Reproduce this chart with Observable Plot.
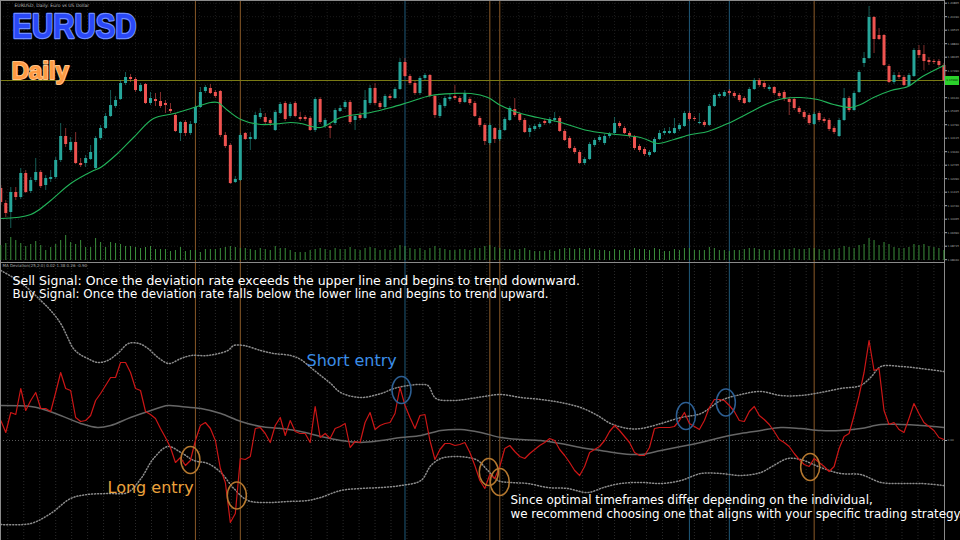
<!DOCTYPE html>
<html><head><meta charset="utf-8">
<script src="https://cdn.jsdelivr.net/npm/d3@7"></script>
<script src="https://cdn.jsdelivr.net/npm/@observablehq/plot@0.6"></script>
<style>
html,body{margin:0;padding:0;background:#000;}
#chart{position:relative;width:960px;height:540px;overflow:hidden;background:#000;}
#chart svg{position:absolute;left:0;display:block;}
</style></head><body><div id="chart"></div>
<script>
// ---------- DATA ----------
const candleOpen = [1.1160,1.1085,1.1040,1.1140,1.1115,1.1235,1.1145,1.1200,1.1240,1.1175,
1.1205,1.1215,1.1300,1.1420,1.1350,1.1390,1.1285,1.1285,1.1305,1.1260,
1.1410,1.1460,1.1520,1.1570,1.1605,1.1685,1.1715,1.1705,1.1645,1.1680,
1.1585,1.1605,1.1595,1.1585,1.1555,1.1525,1.1435,1.1490,1.1435,1.1485,
1.1565,1.1645,1.1660,1.1640,1.1645,1.1425,1.1375,1.1190,1.1200,1.1435,
1.1405,1.1405,1.1515,1.1515,1.1500,1.1450,1.1535,1.1585,1.1520,1.1585,
1.1515,1.1515,1.1510,1.1450,1.1605,1.1470,1.1470,1.1485,1.1545,1.1565,
1.1590,1.1500,1.1525,1.1510,1.1585,1.1660,1.1585,1.1565,1.1620,1.1610,
1.1655,1.1790,1.1720,1.1685,1.1635,1.1710,1.1725,1.1620,1.1520,1.1570,
1.1605,1.1620,1.1610,1.1590,1.1605,1.1585,1.1510,1.1475,1.1385,1.1460,
1.1405,1.1450,1.1500,1.1555,1.1530,1.1500,1.1440,1.1455,1.1465,1.1495,
1.1485,1.1500,1.1510,1.1445,1.1410,1.1360,1.1340,1.1285,1.1305,1.1375,
1.1400,1.1385,1.1420,1.1435,1.1485,1.1460,1.1435,1.1415,1.1370,1.1355,
1.1325,1.1340,1.1405,1.1435,1.1435,1.1435,1.1455,1.1470,1.1535,1.1510,
1.1485,1.1490,1.1475,1.1570,1.1620,1.1620,1.1645,1.1635,1.1625,1.1610,
1.1590,1.1655,1.1700,1.1685,1.1655,1.1665,1.1635,1.1640,1.1605,1.1605,
1.1560,1.1540,1.1525,1.1480,1.1535,1.1505,1.1500,1.1460,1.1420,1.1500,
1.1610,1.1550,1.1640,1.1785,1.1810,1.2015,1.1925,1.1925,1.1770,1.1690,
1.1725,1.1715,1.1670,1.1720,1.1850,1.1830,1.1800,1.1795,1.1795,1.1775];
const candleClose = [1.1090,1.1035,1.1140,1.1115,1.1235,1.1140,1.1200,1.1240,1.1170,1.1210,
1.1215,1.1300,1.1420,1.1380,1.1390,1.1285,1.1275,1.1310,1.1340,1.1410,
1.1460,1.1520,1.1575,1.1600,1.1685,1.1715,1.1705,1.1650,1.1675,1.1585,
1.1610,1.1595,1.1570,1.1575,1.1545,1.1445,1.1490,1.1435,1.1480,1.1565,
1.1640,1.1665,1.1635,1.1620,1.1425,1.1370,1.1185,1.1205,1.1425,1.1405,
1.1415,1.1525,1.1535,1.1490,1.1485,1.1540,1.1580,1.1505,1.1580,1.1520,
1.1505,1.1505,1.1450,1.1605,1.1490,1.1500,1.1460,1.1550,1.1560,1.1590,
1.1490,1.1520,1.1510,1.1600,1.1660,1.1585,1.1565,1.1620,1.1610,1.1655,
1.1790,1.1720,1.1685,1.1635,1.1710,1.1725,1.1620,1.1525,1.1575,1.1610,
1.1615,1.1610,1.1590,1.1635,1.1585,1.1520,1.1475,1.1395,1.1475,1.1405,
1.1450,1.1505,1.1560,1.1525,1.1500,1.1440,1.1460,1.1470,1.1480,1.1485,
1.1505,1.1510,1.1445,1.1400,1.1360,1.1340,1.1285,1.1305,1.1380,1.1400,
1.1415,1.1420,1.1430,1.1485,1.1470,1.1435,1.1420,1.1360,1.1350,1.1330,
1.1340,1.1405,1.1435,1.1445,1.1445,1.1460,1.1475,1.1535,1.1505,1.1505,
1.1490,1.1475,1.1570,1.1625,1.1630,1.1640,1.1635,1.1620,1.1600,1.1585,
1.1655,1.1700,1.1675,1.1665,1.1665,1.1635,1.1620,1.1605,1.1590,1.1560,
1.1540,1.1515,1.1485,1.1530,1.1500,1.1495,1.1455,1.1440,1.1500,1.1610,
1.1550,1.1635,1.1740,1.1810,1.2015,1.1905,1.1905,1.1775,1.1690,1.1725,
1.1715,1.1675,1.1725,1.1850,1.1825,1.1795,1.1790,1.1790,1.1775,1.1700];
const candleHigh = [1.1175,1.1100,1.1165,1.1165,1.1260,1.1250,1.1215,1.1310,1.1250,1.1225,
1.1250,1.1315,1.1485,1.1460,1.1415,1.1440,1.1310,1.1325,1.1375,1.1420,
1.1475,1.1535,1.1650,1.1620,1.1700,1.1740,1.1730,1.1715,1.1685,1.1685,
1.1640,1.1635,1.1640,1.1600,1.1585,1.1535,1.1495,1.1500,1.1495,1.1575,
1.1665,1.1675,1.1680,1.1650,1.1650,1.1440,1.1385,1.1220,1.1435,1.1440,
1.1440,1.1540,1.1560,1.1535,1.1510,1.1550,1.1590,1.1595,1.1590,1.1595,
1.1540,1.1525,1.1520,1.1615,1.1615,1.1510,1.1480,1.1560,1.1575,1.1600,
1.1600,1.1525,1.1540,1.1650,1.1675,1.1685,1.1595,1.1630,1.1630,1.1665,
1.1810,1.1810,1.1730,1.1695,1.1720,1.1735,1.1730,1.1625,1.1585,1.1620,
1.1630,1.1675,1.1620,1.1650,1.1615,1.1595,1.1520,1.1485,1.1485,1.1465,
1.1460,1.1515,1.1570,1.1610,1.1540,1.1510,1.1475,1.1480,1.1490,1.1505,
1.1515,1.1540,1.1520,1.1455,1.1420,1.1370,1.1350,1.1315,1.1390,1.1410,
1.1425,1.1430,1.1440,1.1515,1.1495,1.1470,1.1445,1.1425,1.1380,1.1365,
1.1350,1.1415,1.1450,1.1460,1.1465,1.1510,1.1485,1.1545,1.1545,1.1520,
1.1535,1.1500,1.1580,1.1635,1.1640,1.1650,1.1655,1.1645,1.1635,1.1620,
1.1665,1.1710,1.1710,1.1695,1.1675,1.1670,1.1645,1.1650,1.1615,1.1615,
1.1570,1.1550,1.1535,1.1540,1.1545,1.1515,1.1510,1.1470,1.1510,1.1660,
1.1620,1.1645,1.1750,1.1840,1.2070,1.2020,1.1960,1.1930,1.1780,1.1740,
1.1740,1.1725,1.1735,1.1860,1.1875,1.1875,1.1815,1.1805,1.1805,1.1785];
const candleLow = [1.1075,1.1015,1.0960,1.1100,1.1105,1.1135,1.1135,1.1190,1.1160,1.1150,
1.1190,1.1205,1.1290,1.1365,1.1340,1.1280,1.1265,1.1265,1.1300,1.1255,
1.1400,1.1455,1.1515,1.1560,1.1600,1.1675,1.1690,1.1640,1.1640,1.1580,
1.1575,1.1570,1.1560,1.1535,1.1535,1.1440,1.1395,1.1420,1.1425,1.1480,
1.1560,1.1635,1.1630,1.1610,1.1415,1.1360,1.1180,1.1185,1.1195,1.1400,
1.1350,1.1400,1.1505,1.1480,1.1470,1.1445,1.1530,1.1495,1.1510,1.1515,
1.1495,1.1495,1.1445,1.1440,1.1480,1.1460,1.1410,1.1475,1.1540,1.1555,
1.1480,1.1450,1.1500,1.1505,1.1575,1.1575,1.1555,1.1555,1.1600,1.1605,
1.1650,1.1715,1.1675,1.1625,1.1625,1.1700,1.1615,1.1510,1.1510,1.1560,
1.1595,1.1600,1.1580,1.1585,1.1575,1.1515,1.1465,1.1375,1.1375,1.1385,
1.1395,1.1445,1.1495,1.1515,1.1490,1.1435,1.1415,1.1445,1.1455,1.1475,
1.1480,1.1490,1.1440,1.1395,1.1355,1.1330,1.1280,1.1275,1.1300,1.1365,
1.1390,1.1375,1.1410,1.1430,1.1460,1.1430,1.1410,1.1350,1.1340,1.1320,
1.1315,1.1335,1.1400,1.1425,1.1430,1.1430,1.1445,1.1465,1.1495,1.1495,
1.1480,1.1465,1.1470,1.1565,1.1610,1.1615,1.1625,1.1610,1.1590,1.1580,
1.1585,1.1650,1.1665,1.1655,1.1645,1.1625,1.1610,1.1595,1.1525,1.1550,
1.1530,1.1505,1.1475,1.1475,1.1490,1.1485,1.1445,1.1430,1.1415,1.1495,
1.1540,1.1545,1.1635,1.1765,1.1805,1.1835,1.1900,1.1770,1.1685,1.1680,
1.1705,1.1670,1.1665,1.1715,1.1810,1.1750,1.1775,1.1780,1.1765,1.1695];
const tickVolume = [75,85,115,100,85,70,80,95,75,50,65,80,100,125,90,80,100,65,65,110,
90,65,90,85,80,70,70,65,60,65,70,55,55,
55,45,50,65,45,50,50,40,55,55,55,60,65,70,65,60,60,55,50,60,55,50,70,60,60,50,40,40,40,50,55,
60,55,50,60,55,55,65,55,50,60,65,60,50,55,50,60,
75,70,60,55,60,50,60,70,60,55,50,50,55,55,50,60,
60,70,75,65,60,55,55,50,55,60,50,45,45,45,50,45,
55,60,60,55,60,55,60,55,50,50,45,55,50,50,50,60,
55,55,50,60,55,45,45,55,50,60,60,50,50,50,65,60,
50,50,45,50,50,55,60,60,55,50,50,55,50,55,55,60,
55,55,60,60,55,50,55,55,60,70,65,60,75,80,110,100,
75,90,80,65,60,60,65,80,75,80,70,65,60,50];
const maIndex = [0,6,10,14,18.6,20,23.4,26.6,30.6,34.7,38.7,42.1,43.5,45.5,48.1,52.1,56.1,58.1,60.1,64.1,
68.1,74.1,78.2,81.6,86.2,90.8,94.2,97.6,100.2,104.2,107.6,112.2,117.6,121.6,128.2,131.7,134.9,138.3,141.7,145.7,
149.7,153.7,156.9,160.3,163.7,166.9,170.3,172.3,174.9,178.4,181.8,184.4,187,189];
const maValue = [1.1010,1.1030,1.1100,1.1185,1.1250,1.1265,1.1335,1.1415,1.1510,1.1535,1.1565,1.1590,1.1590,1.1550,1.1505,1.1480,1.1485,1.1490,1.1485,1.1465,
1.1515,1.1540,1.1565,1.1590,1.1625,1.1635,1.1635,1.1615,1.1575,1.1535,1.1515,1.1490,1.1450,1.1435,1.1415,1.1385,1.1405,1.1430,1.1445,1.1485,
1.1535,1.1585,1.1610,1.1615,1.1605,1.1580,1.1565,1.1580,1.1615,1.1650,1.1670,1.1715,1.1750,1.1775];
const deviation = [0.40,0.16,0.56,0.52,1.04,0.60,0.80,0.96,0.64,0.64,
0.58,0.96,1.36,1.04,1.00,0.46,0.38,0.40,0.50,0.80,
0.94,1.10,1.26,1.26,1.56,1.56,1.36,1.04,1.00,0.58,
0.52,0.44,0.24,0.06,-0.14,-0.44,-0.34,-0.50,-0.40,0.00,
0.30,0.36,0.24,0.00,-0.56,-0.84,-1.64,-1.46,-0.36,-0.38,
-0.32,0.24,0.26,0.14,-0.04,0.30,0.46,0.10,0.40,0.18,
0.14,0.14,-0.04,0.68,0.06,0.14,0.04,0.24,0.28,0.34,
-0.14,-0.02,-0.04,0.36,0.56,0.22,0.30,0.34,0.36,0.54,
1.06,0.70,0.46,0.24,0.50,0.52,0.00,-0.38,-0.18,-0.06,
-0.06,-0.10,-0.08,-0.04,-0.24,-0.50,-0.80,-0.96,-0.68,-0.76,
-0.52,-0.16,-0.10,-0.22,-0.32,-0.36,-0.26,-0.18,-0.10,-0.04,
0.04,0.00,-0.18,-0.30,-0.44,-0.60,-0.70,-0.52,-0.24,-0.18,
-0.12,0.00,0.18,0.30,0.20,0.08,-0.04,-0.24,-0.30,-0.30,
-0.14,0.24,0.26,0.26,0.26,0.28,0.40,0.56,0.34,0.28,
0.22,0.40,0.66,0.82,0.82,0.80,0.70,0.58,0.40,0.38,
0.58,0.68,0.50,0.42,0.32,0.18,0.02,-0.04,-0.12,-0.26,
-0.38,-0.48,-0.52,-0.36,-0.44,-0.52,-0.62,-0.52,-0.16,0.08,
0.14,0.50,0.90,1.36,2.00,1.40,1.44,0.60,0.32,0.36,
0.22,0.16,0.44,0.74,0.54,0.36,0.28,0.20,0.06,0.02];
const upperIndex = [0,4,8,10,12,13.4,14.4,15.6,17.4,19.4,21.4,23.4,25.6,27.7,29.5,31.5,33.7,36.1,38.1,41.5,
45.5,46.7,48.7,52.1,54.7,58.1,60.1,62.1,64.1,66.1,68.1,72.1,76.2,78.8,81.6,84.2,85.6,87.2,90.8,94.2,
96.8,100.2,104.2,108.2,112.2,116.2,119.6,122.2,125.7,128.3,132.3,136.3,140.3,144.3,148.3,152.3,156.3,160.3,164.3,168.3,
172.3,174.3,176.4,180.4,184.4,189];
const upperValue = [3.40,3.16,2.80,2.60,2.34,2.06,1.86,1.74,1.64,1.56,1.60,1.74,1.94,1.94,1.84,1.66,1.54,1.64,1.70,1.70,
1.80,1.90,1.90,1.80,1.74,1.70,1.62,1.46,1.30,1.14,0.96,0.86,0.94,1.04,1.10,1.12,1.10,0.84,0.80,0.84,
0.88,0.92,0.86,0.82,0.76,0.66,0.50,0.34,0.24,0.24,0.34,0.46,0.54,0.80,0.92,0.98,0.90,0.90,0.96,1.04,
1.10,1.26,1.48,1.48,1.44,1.38];
const middleIndex = [0,6,8,12,16,19.4,22,26,30.1,33.5,36.1,40.1,44.1,48.1,52.1,56.1,60.1,64.1,68.1,72.1,
76.2,80.2,84.2,88.2,92.2,96.2,100.2,104.2,108.2,112.2,116.2,120.2,124.2,128.3,132.3,136.3,140.3,144.3,148.3,152.3,
156.3,160.3,164.3,168.3,172.3,176.4,180.4,184.4,189];
const middleValue = [0.70,0.68,0.64,0.50,0.34,0.26,0.30,0.46,0.60,0.70,0.68,0.64,0.54,0.38,0.28,0.24,0.18,0.08,0.00,-0.04,
0.00,0.06,0.10,0.20,0.22,0.16,0.06,0.02,0.00,-0.06,-0.14,-0.20,-0.26,-0.28,-0.20,-0.12,-0.04,0.06,0.14,0.20,
0.26,0.24,0.20,0.20,0.24,0.32,0.32,0.30,0.26];
const lowerIndex = [0,6,10,14,17.4,21.4,25.4,28.1,30.6,33.5,36.1,38.7,41.5,44.1,46.7,49.5,53.5,57.5,61.5,64.1,
68.1,72.1,76.2,80.2,84.2,86.2,88.2,90.8,93.6,95.6,97.6,99.6,102.2,105.6,109.6,113.6,117.6,120.8,124.2,128.3,
132.3,136.3,140.3,144.3,148.3,152.3,154.9,157.7,160.3,164.3,168.3,172.3,176.4,180.4,184.4,189];
const lowerValue = [-1.68,-1.66,-1.46,-1.16,-1.08,-1.06,-1.04,-0.76,-0.36,-0.12,-0.24,-0.40,-0.46,-0.64,-0.96,-1.20,-1.24,-1.22,-1.20,-1.14,
-1.00,-0.96,-0.94,-0.90,-0.80,-0.50,-0.36,-0.32,-0.34,-0.40,-0.60,-0.80,-0.84,-0.86,-0.94,-0.96,-1.04,-0.94,-0.86,-0.84,
-0.86,-0.80,-0.66,-0.66,-0.70,-0.64,-0.50,-0.36,-0.38,-0.54,-0.66,-0.68,-0.84,-0.86,-0.86,-0.90];
const longSignals = [39, 48, 98, 100, 163];
const shortSignals = [81, 138, 146];
const longMarkIndex = [38.0, 47.3, 97.8, 100.0, 162.2];
const longMarkValue = [-0.39, -1.10, -0.63, -0.83, -0.53];
const shortMarkIndex = [80.3, 137.3, 145.3];
const shortMarkValue = [1.01, 0.49, 0.76];
const priceTicks = [1.20865,1.20190,1.19515,1.18840,1.18165,1.17490,1.16815,1.16140,1.15465,1.14790,
1.14115,1.13440,1.12765,1.12090,1.11415,1.10740,1.10065,1.09390,1.08715,1.08040];
const levelPrice = 1.1700;
const currentPrice = 1.1700;

// ---------- BUILD ----------
const xDomain = [-0.06, 189.12];
const W = 960, MR = 16;
const teal = "#26a69a", red = "#ef5350";
const candles = candleOpen.map((o, i) => ({i, open: o, close: candleClose[i], high: candleHigh[i], low: candleLow[i]}));
const colorOf = d => d.close >= d.open ? teal : red;
const signals = [...longSignals.map(i => ({i, kind: "long"})), ...shortSignals.map(i => ({i, kind: "short"}))];
const sigColor = d => d.kind === "long" ? "#8a5a28" : "#1f5a7a";
const gridX = d3.range(1.4, 190, 3.2);
const pairs = (ix, vals) => ix.map((i, k) => ({i, v: vals[k]}));
const baseStyle = {background: "transparent", color: "#a0a0a0", fontFamily: "DejaVu Sans", overflow: "visible"};

const rectSymbol = {draw(ctx) { ctx.rect(-7, -4.5, 14, 9); }};
const ellipseSymbol = {draw(ctx) {
  const rx = 9.5, ry = 13.5, k = 0.5523;
  ctx.moveTo(rx, 0);
  ctx.bezierCurveTo(rx, ry * k, rx * k, ry, 0, ry);
  ctx.bezierCurveTo(-rx * k, ry, -rx, ry * k, -rx, 0);
  ctx.bezierCurveTo(-rx, -ry * k, -rx * k, -ry, 0, -ry);
  ctx.bezierCurveTo(rx * k, -ry, rx, -ry * k, rx, 0);
  ctx.closePath();
}};

const priceChart = Plot.plot({
  width: W, height: 262, marginTop: 0, marginBottom: 0, marginLeft: 0, marginRight: MR,
  x: {domain: xDomain, axis: null},
  y: {domain: [1.0790, 1.2100], label: null},
  style: baseStyle,
  marks: [
    Plot.gridY(priceTicks, {stroke: "#1c1c1c", strokeOpacity: 1, strokeDasharray: "1,2"}),
    Plot.gridX(gridX, {stroke: "#1c1c1c", strokeOpacity: 1, strokeDasharray: "1,2"}),
    Plot.ruleX(signals, {x: "i", stroke: sigColor}),
    Plot.ruleY([levelPrice], {stroke: "#7a7a14"}),
    Plot.ruleX(candles, {x: "i", y1: "low", y2: "high", stroke: colorOf, strokeOpacity: 0.55}),
    Plot.ruleX(candles, {x: "i", y1: "open", y2: "close", stroke: colorOf, strokeWidth: 3}),
    Plot.line(pairs(maIndex, maValue), {x: "i", y: "v", stroke: "#22b45a", strokeWidth: 1.1, curve: "catmull-rom"}),
    Plot.frame({stroke: "#8a8a8a"}),
    Plot.axisY(priceTicks, {anchor: "right", label: null, tickSize: 2, tickPadding: 1, tickFormat: ".5f", fontSize: 2.8, color: "#a8a8a8"}),
    Plot.dot([currentPrice], {y: d => d, frameAnchor: "right", dx: 7.5, symbol: rectSymbol, fill: "#2bd12b", stroke: "none"}),
    Plot.text([currentPrice], {y: d => d, frameAnchor: "right", dx: 7.5, text: d => d.toFixed(5), textAnchor: "middle", fontSize: 2.8, fill: "#000"}),
    Plot.text(["EURUSD, Daily: Euro vs US Dollar"], {text: d => d, frameAnchor: "top-left", dx: 14, dy: 3, lineAnchor: "top", textAnchor: "start", fontSize: 4.5, fill: "#bbbbbb"}),
    Plot.text(["EURUSD"], {text: d => d, frameAnchor: "top-left", dx: 12, dy: 13, lineAnchor: "top", textAnchor: "start",
      fontSize: 35, fontWeight: "bold", fontFamily: "Liberation Sans, sans-serif",
      fill: "#2a48f7", stroke: "#6f8dff", strokeWidth: 2.5, strokeLinejoin: "round", paintOrder: "stroke"}),
    Plot.text(["Daily"], {text: d => d, frameAnchor: "top-left", dx: 11, dy: 61, lineAnchor: "top", textAnchor: "start",
      fontSize: 24, fontWeight: "bold", fontFamily: "Liberation Sans, sans-serif",
      fill: "#ff9a42", stroke: "#ffc489", strokeWidth: 2, strokeLinejoin: "round", paintOrder: "stroke"})
  ]
});
// condense the big symbol title to the reference's narrow letterforms
d3.select(priceChart).selectAll("text")
  .filter(function() { return this.textContent === "EURUSD"; })
  .attr("textLength", 124).attr("lengthAdjust", "spacingAndGlyphs");

const volumeChart = Plot.plot({
  width: W, height: 40, marginTop: 0, marginBottom: 0, marginLeft: 0, marginRight: MR,
  x: {domain: xDomain, axis: null},
  y: {domain: [0, 200], axis: null},
  style: baseStyle,
  marks: [
    Plot.ruleX(tickVolume.map((v, i) => ({i, v})), {x: "i", y1: 0, y2: "v", stroke: "#3b8f3b"})
  ]
});

const oscChart = Plot.plot({
  width: W, height: 278, marginTop: 0, marginBottom: 0, marginLeft: 0, marginRight: MR,
  x: {domain: xDomain, axis: null},
  y: {domain: [-2.0, 3.56], label: null},
  style: baseStyle,
  marks: [
    Plot.gridX(gridX, {stroke: "#2a2a2a", strokeOpacity: 1, strokeDasharray: "1,2"}),
    Plot.ruleY([0], {stroke: "#5a5a5a", strokeDasharray: "1,2"}),
    Plot.ruleX(signals, {x: "i", stroke: sigColor}),
    Plot.line(pairs(upperIndex, upperValue), {x: "i", y: "v", stroke: "#8c8c8c", strokeDasharray: "1,2", curve: "catmull-rom"}),
    Plot.line(pairs(middleIndex, middleValue), {x: "i", y: "v", stroke: "#666666", curve: "catmull-rom"}),
    Plot.line(pairs(lowerIndex, lowerValue), {x: "i", y: "v", stroke: "#8c8c8c", strokeDasharray: "1,2", curve: "catmull-rom"}),
    Plot.line(deviation.map((v, i) => ({i, v})), {x: "i", y: "v", stroke: "#cc1616", strokeWidth: 1.2}),
    Plot.dot(pairs(longMarkIndex, longMarkValue), {x: "i", y: "v", symbol: ellipseSymbol, stroke: "#b5782f", fill: "none"}),
    Plot.dot(pairs(shortMarkIndex, shortMarkValue), {x: "i", y: "v", symbol: ellipseSymbol, stroke: "#2d5f93", fill: "none"}),
    Plot.frame({stroke: "#8a8a8a"}),
    Plot.axisY([0], {anchor: "right", label: null, tickSize: 2, tickPadding: 1, tickFormat: ".2f", fontSize: 2.8, color: "#a8a8a8"}),
    Plot.text(["MA Deviation(25,2.0) 0.02 1.38 0.26 -0.90"], {text: d => d, frameAnchor: "top-left", dx: 2, dy: 2, lineAnchor: "top", textAnchor: "start", fontSize: 4, fill: "#aaaaaa"}),
    Plot.text(["Sell Signal: Once the deviation rate exceeds the upper line and begins to trend downward."], {text: d => d, frameAnchor: "top-left", dx: 12, dy: 13.5, lineAnchor: "top", textAnchor: "start", fontSize: 12.5, fill: "#ffffff"}),
    Plot.text(["Buy Signal: Once the deviation rate falls below the lower line and begins to trend upward."], {text: d => d, frameAnchor: "top-left", dx: 12, dy: 26.8, lineAnchor: "top", textAnchor: "start", fontSize: 11.9, fill: "#ffffff"}),
    Plot.text(["Short entry"], {text: d => d, frameAnchor: "top-left", dx: 306, dy: 92, lineAnchor: "top", textAnchor: "start", fontSize: 16, fill: "#3b8ee8"}),
    Plot.text(["Long entry"], {text: d => d, frameAnchor: "top-left", dx: 107, dy: 219.5, lineAnchor: "top", textAnchor: "start", fontSize: 16, fill: "#eba23c"}),
    Plot.text(["Since optimal timeframes differ depending on the individual,"], {text: d => d, frameAnchor: "top-left", dx: 510, dy: 233, lineAnchor: "top", textAnchor: "start", fontSize: 11.9, fill: "#ffffff"}),
    Plot.text(["we recommend choosing one that aligns with your specific trading strategy."], {text: d => d, frameAnchor: "top-left", dx: 510, dy: 247, lineAnchor: "top", textAnchor: "start", fontSize: 11.9, fill: "#ffffff"})
  ]
});

const holder = document.getElementById("chart");
function place(svg, y) { svg.style.top = y + "px"; holder.append(svg); }
place(priceChart, 0);
place(volumeChart, 220);
place(oscChart, 262);
</script></body></html>
